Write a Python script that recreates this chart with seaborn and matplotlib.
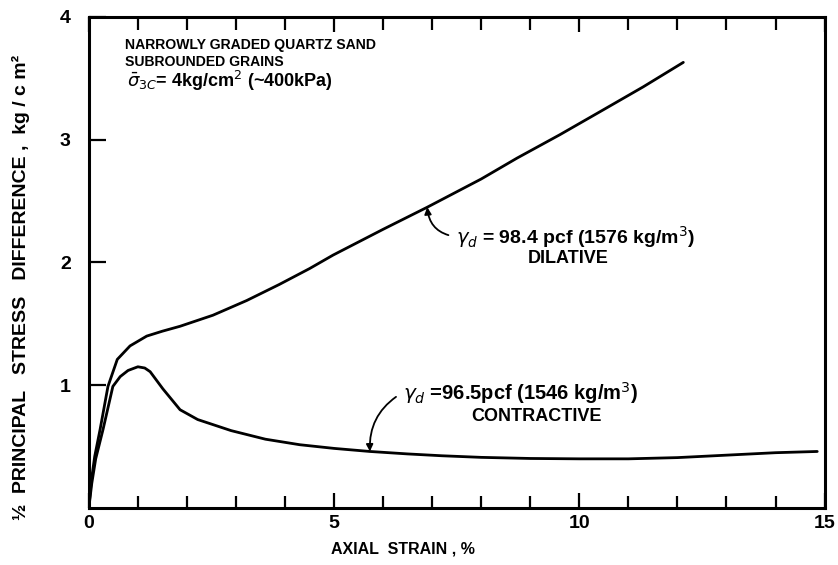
import numpy as np
import pandas as pd
import matplotlib
matplotlib.use("Agg")
import matplotlib.pyplot as plt
from matplotlib.ticker import MultipleLocator
import seaborn as sns

# Dense (dilative) specimen: axial strain (%) vs 1/2 principal stress difference (kg/cm^2)
dil_strain = [0.0, 0.05, 0.12, 0.23, 0.39, 0.58, 0.84, 1.18, 1.5, 1.86, 2.53, 3.22,
              3.88, 4.5, 4.98, 6.0, 6.9, 8.0, 8.73, 9.6, 10.43, 11.3, 12.12]
dil_stress = [0.0, 0.22, 0.42, 0.64, 0.99, 1.21, 1.32, 1.40, 1.44, 1.48, 1.57, 1.69,
              1.82, 1.95, 2.06, 2.27, 2.45, 2.68, 2.85, 3.04, 3.23, 3.43, 3.63]

# Loose (contractive) specimen
con_strain = [0.0, 0.06, 0.14, 0.29, 0.49, 0.64, 0.8, 1.0, 1.14, 1.25, 1.51, 1.86,
              2.22, 2.9, 3.6, 4.3, 5.0, 5.73, 6.5, 7.2, 8.0, 9.0, 10.0, 11.0, 12.0,
              13.0, 14.0, 14.85]
con_stress = [0.0, 0.20, 0.40, 0.64, 0.99, 1.07, 1.12, 1.15, 1.14, 1.11, 0.97, 0.80,
              0.72, 0.63, 0.56, 0.515, 0.485, 0.46, 0.44, 0.425, 0.412, 0.403, 0.40,
              0.40, 0.41, 0.43, 0.45, 0.46]

x_ticks = [0, 5, 10, 15]
y_ticks = [1, 2, 3, 4]

df = pd.concat([
    pd.DataFrame({"strain": dil_strain, "stress": dil_stress, "test": "dilative"}),
    pd.DataFrame({"strain": con_strain, "stress": con_stress, "test": "contractive"}),
])

sns.set_style("ticks")
plt.rcParams["font.family"] = ["Liberation Sans", "DejaVu Sans"]
plt.rcParams["mathtext.fontset"] = "dejavusans"
for key in ("text.color", "axes.labelcolor", "xtick.color", "ytick.color", "axes.edgecolor"):
    plt.rcParams[key] = "black"

fig = plt.figure(figsize=(8.38, 5.65), dpi=100)
ax = fig.add_axes([0.106, 0.101, 0.878, 0.869])

sns.lineplot(data=df, x="strain", y="stress", units="test", estimator=None,
             color="black", linewidth=2.0, sort=False, ax=ax, legend=False)

ax.set_xlim(0, 15)
ax.set_ylim(0, 4)
ax.set_xticks(x_ticks)
ax.set_xticklabels([str(t) for t in x_ticks])
ax.xaxis.set_minor_locator(MultipleLocator(1))
ax.set_yticks(y_ticks)
ax.set_yticklabels([str(t) for t in y_ticks])

for s in ax.spines.values():
    s.set_linewidth(2.2)
    s.set_color("black")

ax.tick_params(axis="x", which="both", direction="in", top=True, bottom=True,
               width=1.6, color="black", labelsize=14, pad=5)
ax.tick_params(axis="x", which="major", length=11)
ax.tick_params(axis="x", which="minor", length=9)
ax.tick_params(axis="y", which="major", direction="in", length=12, width=1.6,
               left=True, right=False, labelsize=14, pad=13)
for lab in ax.get_xticklabels() + ax.get_yticklabels():
    lab.set_fontweight("bold")

ax.set_xlabel("AXIAL  STRAIN , %", fontsize=11.5, fontweight="bold")
ax.xaxis.set_label_coords(0.427, -0.068)
ax.set_ylabel("½  PRINCIPAL   STRESS   DIFFERENCE ,  kg / c m²",
              fontsize=14, fontweight="bold")
ax.yaxis.set_label_coords(-0.08, 0.45)

# Test description block
desc_kw = dict(fontweight="bold", va="center", ha="left")
ax.text(0.73, 3.77, "NARROWLY GRADED QUARTZ SAND", fontsize=10.1, **desc_kw)
ax.text(0.73, 3.635, "SUBROUNDED GRAINS", fontsize=10.1, **desc_kw)
ax.text(0.77, 3.48, r"$\bar{\sigma}_{3C}$= 4kg/cm$^2$ (~400kPa)", fontsize=13, **desc_kw)

# Curve labels with curved leader arrows
lab_kw = dict(fontweight="bold", va="center", ha="left")
ax.annotate(r"$\gamma_d$ = 98.4 pcf (1576 kg/m$^3$)", xy=(6.9, 2.45), xytext=(7.48, 2.21),
            fontsize=14,
            arrowprops=dict(arrowstyle="-|>", color="black", lw=1.3, relpos=(0, 0.5),
                            connectionstyle="arc3,rad=-0.4", shrinkA=3, shrinkB=0,
                            mutation_scale=10), **lab_kw)
ax.text(9.78, 2.03, "DILATIVE", fontsize=13, fontweight="bold",
        ha="center", va="center")

ax.annotate(r"$\gamma_d$ =96.5pcf (1546 kg/m$^3$)", xy=(5.73, 0.46), xytext=(6.4, 0.94),
            fontsize=14.5,
            arrowprops=dict(arrowstyle="-|>", color="black", lw=1.3, relpos=(0, 0.5),
                            connectionstyle="arc3,rad=0.3", shrinkA=3, shrinkB=0,
                            mutation_scale=10), **lab_kw)
ax.text(9.12, 0.745, "CONTRACTIVE", fontsize=13, fontweight="bold",
        ha="center", va="center")

fig.savefig("out.png", dpi=100)
